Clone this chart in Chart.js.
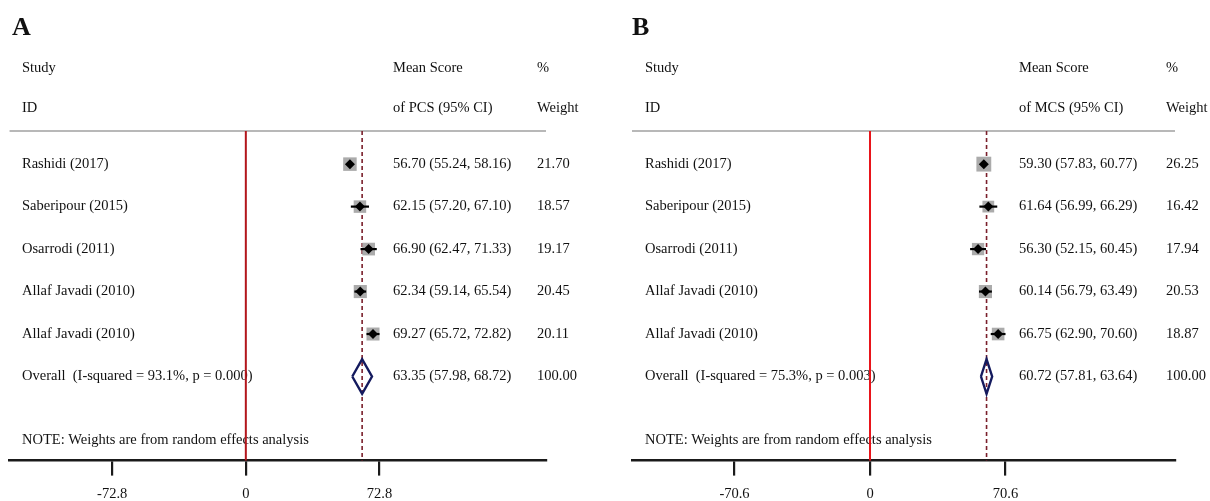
<!DOCTYPE html>
<html>
<head>
<meta charset="utf-8">
<script src="https://cdn.jsdelivr.net/npm/chart.js@4/dist/chart.umd.min.js"></script>
<style>
  html, body { margin: 0; padding: 0; background: #fff; }
  #wrap { position: relative; width: 1210px; height: 501px; overflow: hidden; }
  .panel { position: absolute; top: 0; width: 605px; height: 501px; overflow: hidden; }
</style>
</head>
<body>
<div id="wrap">
  <div class="panel" style="left:0"><canvas id="cA" width="605" height="513"></canvas></div>
  <div class="panel" style="left:605px"><canvas id="cB" width="605" height="513"></canvas></div>
</div>
<script>
// ---------- data ----------
const studies = ["Rashidi (2017)", "Saberipour (2015)", "Osarrodi (2011)", "Allaf Javadi (2010)", "Allaf Javadi (2010)"];

const pcsMean   = [56.70, 62.15, 66.90, 62.34, 69.27];
const pcsLow    = [55.24, 57.20, 62.47, 59.14, 65.72];
const pcsHigh   = [58.16, 67.10, 71.33, 65.54, 72.82];
const pcsWeight = [21.70, 18.57, 19.17, 20.45, 20.11];
const pcsOverall = [63.35, 57.98, 68.72];   // estimate, low, high
const pcsHet = ["93.1%", "0.000"];
const pcsTicks = [-72.8, 0, 72.8];

const mcsMean   = [59.30, 61.64, 56.30, 60.14, 66.75];
const mcsLow    = [57.83, 56.99, 52.15, 56.79, 62.90];
const mcsHigh   = [60.77, 66.29, 60.45, 63.49, 70.60];
const mcsWeight = [26.25, 16.42, 17.94, 20.53, 18.87];
const mcsOverall = [60.72, 57.81, 63.64];
const mcsHet = ["75.3%", "0.003"];
const mcsTicks = [-70.6, 0, 70.6];

const FONT = '"Liberation Serif", "Times New Roman", serif';

function makePanel(canvasId, cfg) {
  const n = cfg.mean.length;
  const yTop = -0.78, yBot = 6.98;
  const overallRow = n;
  const datasets = [];

  // header separator line
  datasets.push({ type: 'line', order: 100, data: [{x: cfg.xmin, y: yTop}, {x: cfg.xmax, y: yTop}],
    borderColor: '#b8b8b8', borderWidth: 2, pointRadius: 0, clip: false });
  // null line
  datasets.push({ type: 'line', order: 90, data: [{x: 0, y: yTop}, {x: 0, y: yBot}],
    borderColor: cfg.redColor, borderWidth: 2, pointRadius: 0, clip: false });
  // overall dashed line
  datasets.push({ type: 'line', order: 80, data: [{x: cfg.overall[0], y: yTop}, {x: cfg.overall[0], y: yBot}],
    borderColor: '#7a1f2b', borderWidth: 1.6, borderDash: [4, 3], pointRadius: 0, clip: false });

  // weight boxes
  datasets.push({ type: 'scatter', order: 70,
    data: cfg.mean.map((m, i) => ({x: m, y: i})),
    pointStyle: 'rect',
    pointRadius: cfg.weight.map(w => 2.9 * Math.sqrt(w) / Math.SQRT2),
    backgroundColor: '#ababab', borderColor: '#ababab', borderWidth: 0, clip: false });

  // CI lines
  for (let i = 0; i < n; i++) {
    datasets.push({ type: 'line', order: 60, data: [{x: cfg.low[i], y: i}, {x: cfg.high[i], y: i}],
      borderColor: '#000', borderWidth: 2.2, pointRadius: 0, clip: false });
  }
  // point estimates
  datasets.push({ type: 'scatter', order: 50,
    data: cfg.mean.map((m, i) => ({x: m, y: i})),
    pointStyle: 'rectRot', pointRadius: 5,
    backgroundColor: '#000', borderColor: '#000', borderWidth: 0, clip: false });

  // overall diamond
  const h = 0.41;
  datasets.push({ type: 'line', order: 40,
    data: [
      {x: cfg.overall[1], y: overallRow},
      {x: cfg.overall[0], y: overallRow - h},
      {x: cfg.overall[2], y: overallRow},
      {x: cfg.overall[0], y: overallRow + h},
      {x: cfg.overall[1], y: overallRow}
    ],
    borderColor: '#141a5e', borderWidth: 2.4, pointRadius: 0, tension: 0, clip: false,
    borderJoinStyle: 'miter' });

  const textPlugin = {
    id: 'forestText',
    beforeDatasetsDraw(chart) {
      const ctx = chart.ctx;
      const ys = chart.scales.y;
      ctx.save();
      ctx.fillStyle = '#111';
      ctx.textBaseline = 'middle';
      ctx.textAlign = 'left';
      // panel letter
      ctx.font = 'bold 26px ' + FONT;
      ctx.fillText(cfg.letter, cfg.letterX, 28);
      ctx.font = '14.5px ' + FONT;
      const yp = v => ys.getPixelForValue(v);
      // headers
      ctx.fillText('Study', cfg.col1, yp(-2.26));
      ctx.fillText('ID', cfg.col1, yp(-1.32));
      ctx.fillText('Mean Score', cfg.col2, yp(-2.26));
      ctx.fillText('of ' + cfg.measure + ' (95% CI)', cfg.col2, yp(-1.32));
      ctx.fillText('%', cfg.col3, yp(-2.26));
      ctx.fillText('Weight', cfg.col3, yp(-1.32));
      // rows
      for (let i = 0; i < n; i++) {
        ctx.fillText(studies[i], cfg.col1, yp(i));
        ctx.fillText(cfg.mean[i].toFixed(2) + ' (' + cfg.low[i].toFixed(2) + ', ' + cfg.high[i].toFixed(2) + ')', cfg.col2, yp(i));
        ctx.fillText(cfg.weight[i].toFixed(2), cfg.col3, yp(i));
      }
      ctx.fillText('Overall  (I-squared = ' + cfg.het[0] + ', p = ' + cfg.het[1] + ')', cfg.col1, yp(overallRow));
      ctx.fillText(cfg.overall[0].toFixed(2) + ' (' + cfg.overall[1].toFixed(2) + ', ' + cfg.overall[2].toFixed(2) + ')', cfg.col2, yp(overallRow));
      ctx.fillText('100.00', cfg.col3, yp(overallRow));
      ctx.fillText('NOTE: Weights are from random effects analysis', cfg.col1, yp(6.51));
      ctx.restore();
    }
  };

  return new Chart(document.getElementById(canvasId), {
    data: { datasets },
    options: {
      responsive: false,
      animation: false,
      events: [],
      layout: { padding: { top: 131, left: cfg.padL, right: cfg.padR, bottom: 0 } },
      plugins: { legend: { display: false }, tooltip: { enabled: false } },
      scales: {
        x: {
          type: 'linear', min: cfg.xmin, max: cfg.xmax,
          afterBuildTicks: s => { s.ticks = cfg.ticks.map(v => ({ value: v })); },
          ticks: { callback: v => String(v), color: '#111', padding: 10,
                   font: { family: FONT, size: 14.5 }, maxRotation: 0, autoSkip: false },
          grid: { drawOnChartArea: false, drawTicks: true, tickLength: 15, color: '#1a1a1a', lineWidth: 2.2 },
          border: { display: true, color: '#1a1a1a', width: 2.4 }
        },
        y: { type: 'linear', display: false, reverse: true, min: yTop, max: yBot }
      }
    },
    plugins: [textPlugin]
  });
}

makePanel('cA', {
  letter: 'A', letterX: 12, measure: 'PCS',
  mean: pcsMean, low: pcsLow, high: pcsHigh, weight: pcsWeight,
  overall: pcsOverall, het: pcsHet, ticks: pcsTicks,
  xmin: -128.7, xmax: 163.5, padL: 8, padR: 59,
  col1: 22, col2: 393, col3: 537, redColor: '#b3161c'
});

makePanel('cB', {
  letter: 'B', letterX: 27, measure: 'MCS',
  mean: mcsMean, low: mcsLow, high: mcsHigh, weight: mcsWeight,
  overall: mcsOverall, het: mcsHet, ticks: mcsTicks,
  xmin: -124.0, xmax: 158.9, padL: 27, padR: 35,
  col1: 40, col2: 414, col3: 561, redColor: '#e8141a'
});
</script>
</body>
</html>
